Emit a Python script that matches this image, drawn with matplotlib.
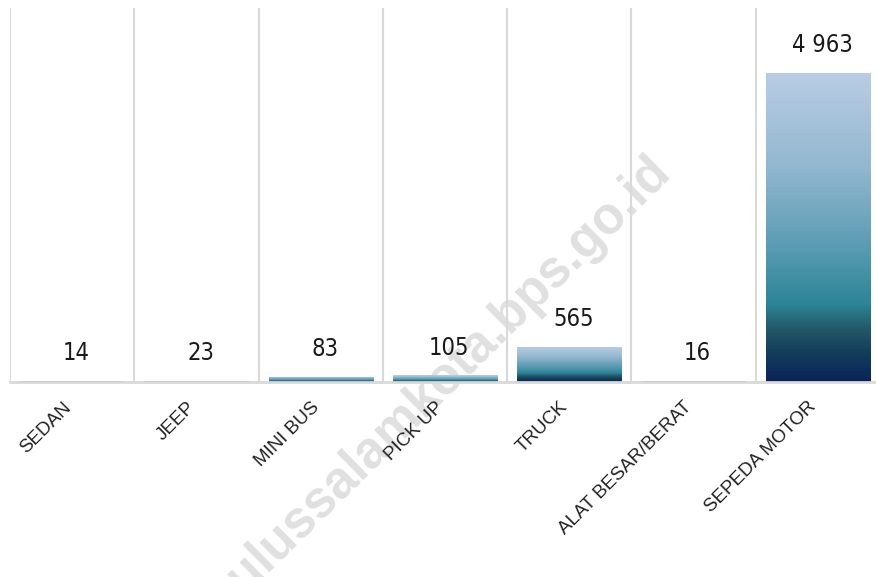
import matplotlib
matplotlib.use("Agg")
import matplotlib.pyplot as plt
import numpy as np
from matplotlib.colors import LinearSegmentedColormap
from matplotlib.transforms import ScaledTranslation

categories = ["SEDAN", "JEEP", "MINI BUS", "PICK UP", "TRUCK",
              "ALAT BESAR/BERAT", "SEPEDA MOTOR"]
values = [14, 23, 83, 105, 565, 16, 4963]

# top -> bottom of each bar
bar_cmap = LinearSegmentedColormap.from_list(
    "bar", [(0.0, "#b9cde5"), (0.3, "#93b8d0"), (0.55, "#5e9db5"),
            (0.75, "#2d8497"), (0.83, "#235868"), (0.9, "#143f5c"),
            (1.0, "#0a2358")])

fig = plt.figure(figsize=(8.76, 5.77), dpi=100)
ax = fig.add_axes([10 / 876, 1 - 382 / 577, 870 / 876, 374 / 577])
ax.patch.set_visible(False)

# watermark sits under the chart
fig.text(673 / 876, 1 - 175 / 577, "subulussalamkota.bps.go.id", rotation=44.5,
         rotation_mode="anchor", ha="right", va="baseline", fontsize=37,
         fontweight="bold", color="#e0e0e0", family="Liberation Sans",
         zorder=-1)

x = np.arange(len(categories))
bars = ax.bar(x, values, width=0.84, color="none", edgecolor="none", zorder=2)

grad = np.linspace(0, 1, 256).reshape(-1, 1)
for b in bars:
    x0, w, h = b.get_x(), b.get_width(), b.get_height()
    im = ax.imshow(grad, cmap=bar_cmap, aspect="auto", zorder=2,
                   extent=(x0, x0 + w, 0, h), interpolation="bilinear")
    im.set_clip_path(b)

for xi, v in zip(x, values):
    ax.annotate(f"{v:,}".replace(",", " "), (xi, v), xytext=(3, 20),
                textcoords="offset points", ha="center", va="center",
                fontsize=17, color="#1a1a1a", fontstretch="condensed",
                family=["DejaVu Sans"])

ax.set_xlim(-0.5, 6.5)
ax.set_ylim(0, 6000)
ax.set_xticks(x)
ax.set_xticklabels(categories, rotation=45, ha="right", rotation_mode="anchor",
                   fontsize=13.5, color="#222222", family="Liberation Sans")
ax.tick_params(axis="x", length=0, pad=12)
# nudge labels left so the rotated words end under the bar centre
shift = ScaledTranslation(-0.10, 0, fig.dpi_scale_trans)
for lbl in ax.get_xticklabels():
    lbl.set_transform(lbl.get_transform() + shift)
ax.set_yticks([])
for xb in np.arange(-0.5, 6.6, 1):
    ax.axvline(xb, color="#d9d9d9", lw=1.5, zorder=1)
for s in ["top", "right", "left"]:
    ax.spines[s].set_visible(False)
ax.spines["bottom"].set_color("#d9d9d9")
ax.spines["bottom"].set_linewidth(2)

fig.savefig("out.png", dpi=100)
